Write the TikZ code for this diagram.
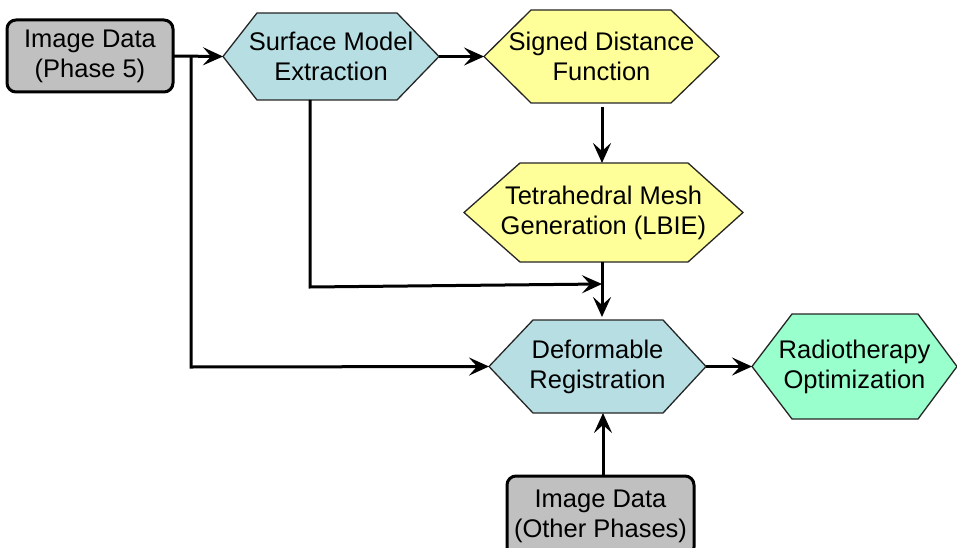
\documentclass[tikz,border=0pt]{standalone}
\usepackage{fontspec}
\setmainfont{Liberation Sans}
\usetikzlibrary{arrows.meta}

\definecolor{boxgray}{RGB}{192,192,192}
\definecolor{hexblue}{RGB}{183,223,227}
\definecolor{hexyellow}{RGB}{255,255,153}
\definecolor{hexmint}{RGB}{153,255,204}

\tikzset{
  lbl/.style={align=center, inner sep=0pt, outer sep=0pt,
    font=\fontsize{25.5}{30}\selectfont},
  hexline/.style={draw=black!85, line width=1.3pt, line join=miter},
  databox/.style={lbl, draw=black, fill=boxgray, line width=3pt,
    rounded corners=9pt},
  flow/.style={draw=black, line width=3pt,
    -{Stealth[length=20pt, width=18pt, inset=8pt]}},
}

% hexagon node: name, left, right, top-left, top-right, top, bottom, fill, text
\newcommand\hexnode[9]{%
  \path[hexline, fill=#8] (#2,{(#6+#7)/2}) -- (#4,#6) -- (#5,#6)
    -- (#3,{(#6+#7)/2}) -- (#5,#7) -- (#4,#7) -- cycle;
  \node[lbl, minimum width={#3-#2}, minimum height={#7-#6}]
    (#1) at ({(#2+#3)/2},{(#6+#7)/2}) {#9};
}

\begin{document}
\begin{tikzpicture}[x=1pt, y=-1pt]
\useasboundingbox (0,0) rectangle (957,548);

% input data boxes
\node[databox, minimum width=166, minimum height=72] (img5) at (90,56)
  {Image Data\\(Phase 5)};
\node[databox, minimum width=187, minimum height=80] (imgo) at (600.5,516)
  {Image Data\\(Other Phases)};

% processing steps
\hexnode{surf}{223}{439}{257}{397}{13}{100}{hexblue}{Surface Model\\Extraction}
\hexnode{sdf}{484}{719}{531}{671}{10}{103}{hexyellow}{Signed Distance\\Function}
\hexnode{tet}{464}{743}{520}{688}{163}{262}{hexyellow}{Tetrahedral Mesh\\Generation (LBIE)}
\hexnode{reg}{489}{706}{533}{663}{320}{413}{hexblue}{Deformable\\Registration}
\hexnode{rad}{752}{957}{792}{918}{314}{419}{hexmint}{Radiotherapy\\Optimization}

% junction points of the routed connectors
\coordinate (split) at (191,56);
\coordinate (splitdown) at (191,367);
\coordinate (surfdrop) at (310,287);
\coordinate (meshjoin) at (602,284);

% connectors
\draw[flow] (img5.east) -- (surf.west);
\draw[flow] (surf.east) -- (sdf.west);
\draw[flow, shorten <=4pt] (sdf.south -| meshjoin) -- (tet.north -| meshjoin);
\draw[flow, shorten >=3pt] (tet.south -| meshjoin) -- (reg.north -| meshjoin);
\draw[flow] (surfdrop |- surf.south) -- (surfdrop) -- (meshjoin);
\draw[flow] (split) -- (splitdown) -- (reg.west);
\draw[flow] (reg.east) -- (rad.west);
\draw[flow] (imgo.north -| 603,0) -- (reg.south -| 603,0);
\end{tikzpicture}
\end{document}
